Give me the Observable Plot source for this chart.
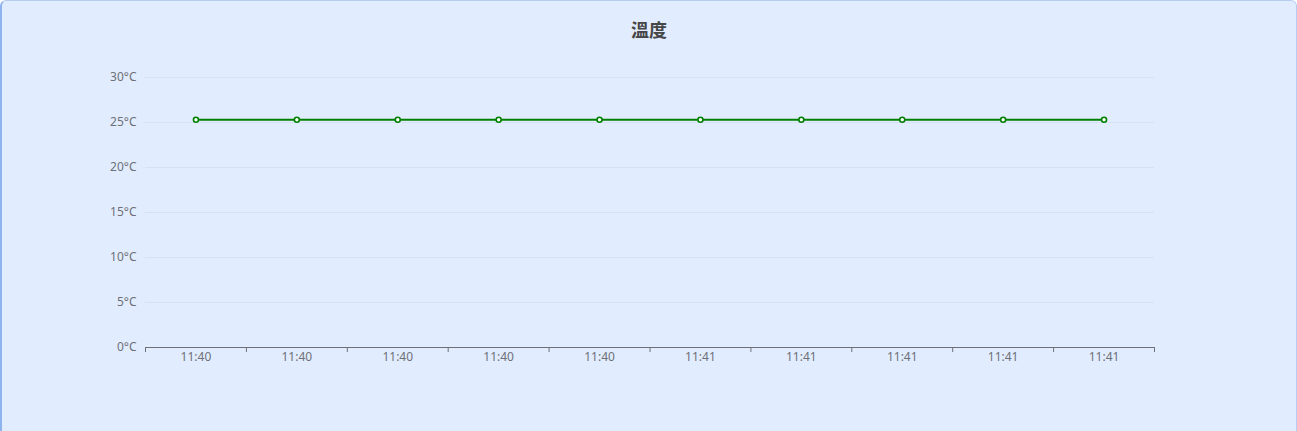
<!DOCTYPE html>
<html>
<head>
<meta charset="utf-8">
<script src="https://cdn.jsdelivr.net/npm/d3@7"></script>
<script src="https://cdn.jsdelivr.net/npm/@observablehq/plot@0.6"></script>
<style>
  html, body { margin: 0; padding: 0; background: #ffffff; overflow: hidden; }
  #card {
    position: relative;
    width: 1297px; height: 445px;
    box-sizing: border-box;
    background: #e1edfe;
    border: 1px solid #b7cdef;
    border-left: 2px solid #8fb3ee;
    border-radius: 6px;
    overflow: hidden;
    font-family: "Noto Sans CJK SC", "Noto Sans", sans-serif;
  }
  #title {
    position: absolute; left: 0; top: 0; width: 100%;
    height: 56px; line-height: 56px; text-align: center;
    font-size: 18px; font-weight: bold; color: #464646;
  }
  #chart { position: absolute; left: -3px; top: 54px; }
</style>
</head>
<body>
<div id="card">
  <div id="title">溫度</div>
  <div id="chart"></div>
</div>
<script>
const timeLabels = ["11:40","11:40","11:40","11:40","11:40","11:41","11:41","11:41","11:41","11:41"];
const temps = [25.3,25.3,25.3,25.3,25.3,25.3,25.3,25.3,25.3,25.3];
const yTicks = [0,5,10,15,20,25,30];

const data = temps.map((v, i) => ({idx: i + 0.5, v}));
const boundaries = d3.range(0, timeLabels.length + 1);
const centers = timeLabels.map((_, i) => i + 0.5);

const chart = Plot.plot({
  width: 1297,
  height: 376,
  marginLeft: 146,
  marginRight: 142,
  marginTop: 22,
  marginBottom: 84,
  style: {background: "transparent", fontFamily: "\"Noto Sans\", \"Noto Sans CJK SC\", sans-serif", fontSize: "12px", color: "#6e7079"},
  x: {domain: [0, timeLabels.length]},
  y: {domain: [0, 30]},
  marks: [
    Plot.gridY(yTicks.filter(t => t > 0), {stroke: "#d6e1f1", strokeOpacity: 1}),
    Plot.axisY({ticks: yTicks, tickSize: 0, tickPadding: 9, tickFormat: d => d + "°C", label: null, fill: "#6e7079"}),
    Plot.ruleY([0], {stroke: "#6e7079", strokeWidth: 1}),
    Plot.axisX({ticks: boundaries, tickSize: 5, tickFormat: () => "", label: null, stroke: "#6e7079"}),
    Plot.axisX({ticks: centers, tickSize: 0, tickPadding: 5, tickFormat: (d, i) => timeLabels[i], label: null, fill: "#6e7079"}),
    Plot.line(data, {x: "idx", y: "v", stroke: "#008000", strokeWidth: 2}),
    Plot.dot(data, {x: "idx", y: "v", r: 2.5, fill: "#ffffff", stroke: "#008000", strokeWidth: 1.6})
  ]
});
document.getElementById("chart").appendChild(chart);
</script>
</body>
</html>
